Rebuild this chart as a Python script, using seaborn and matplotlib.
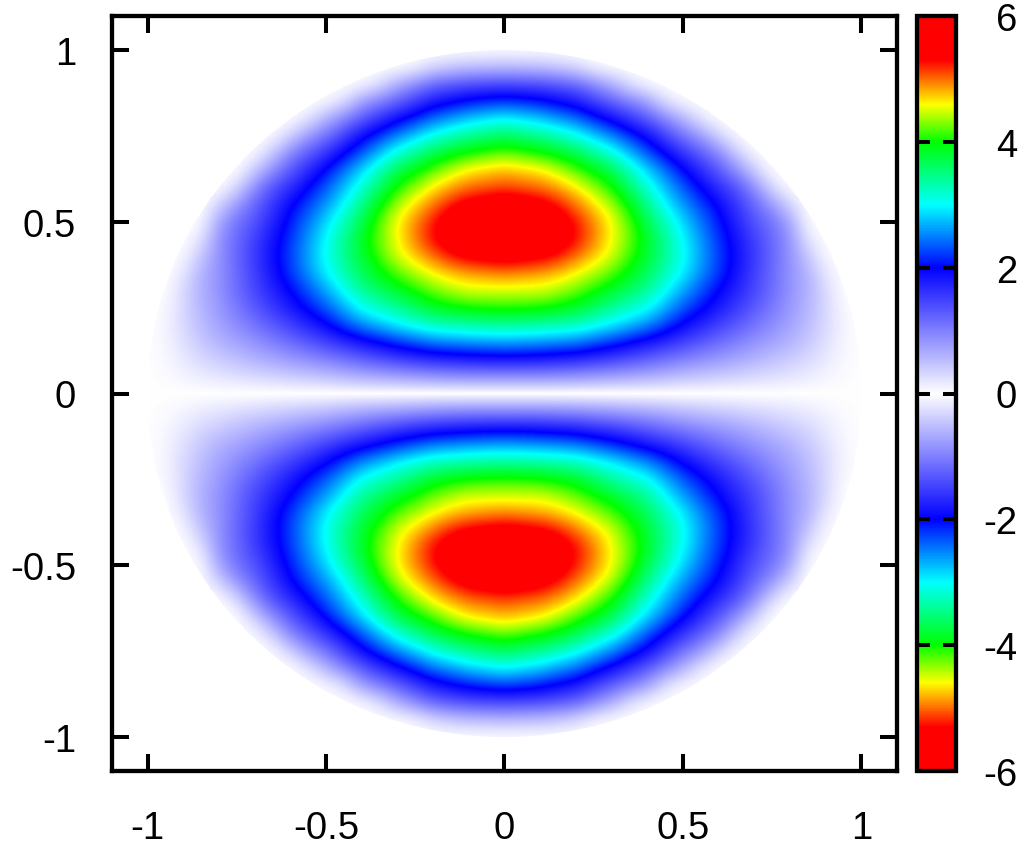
import numpy as np
import matplotlib
matplotlib.use('Agg')
import matplotlib.pyplot as plt
from matplotlib.colors import LinearSegmentedColormap
from matplotlib.patches import Ellipse
import seaborn as sns

# values, upper right quarter, y = 0, 0.05, ... 1.1
# one list per x = 0, 0.05, ... 1.1
col_000 = [0, .9, 1.85, 2.65, 3.4, 4.1, 4.5, 4.95, 5.5, 5.95, 6.0, 5.65, 5.1, 4.8, 4.25, 3.65, 3.0, 2.25, 1.45, .55, 0, 0, 0]
col_005 = [0, .9, 1.83, 2.63, 3.38, 4.08, 4.5, 4.9, 5.45, 5.85, 5.9, 5.55, 5.05, 4.72, 4.15, 3.55, 2.9, 2.18, 1.43, .52, 0, 0, 0]
col_010 = [0, .9, 1.8, 2.6, 3.35, 4.05, 4.5, 4.85, 5.4, 5.7, 5.75, 5.45, 5.0, 4.65, 4.05, 3.45, 2.8, 2.1, 1.4, .5, 0, 0, 0]
col_015 = [0, .88, 1.75, 2.55, 3.3, 3.95, 4.4, 4.75, 5.25, 5.55, 5.55, 5.25, 4.85, 4.45, 3.9, 3.28, 2.62, 1.95, 1.3, .42, 0, 0, 0]
col_020 = [0, .85, 1.7, 2.5, 3.25, 3.85, 4.25, 4.6, 5.0, 5.3, 5.25, 4.98, 4.65, 4.2, 3.7, 3.1, 2.45, 1.8, 1.2, .3, 0, 0, 0]
col_025 = [0, .8, 1.6, 2.35, 3.1, 3.62, 4.05, 4.4, 4.75, 4.95, 4.92, 4.7, 4.35, 3.95, 3.42, 2.82, 2.17, 1.52, .92, .08, 0, 0, 0]
col_030 = [0, .75, 1.5, 2.2, 2.95, 3.4, 3.85, 4.2, 4.5, 4.6, 4.6, 4.4, 4.05, 3.7, 3.15, 2.55, 1.9, 1.25, .65, 0, 0, 0, 0]
col_035 = [0, .7, 1.38, 2.02, 2.75, 3.22, 3.62, 3.92, 4.15, 4.25, 4.2, 3.95, 3.6, 3.27, 2.75, 2.22, 1.6, 1.0, .25, 0, 0, 0, 0]
col_040 = [0, .65, 1.25, 1.85, 2.55, 3.05, 3.4, 3.65, 3.8, 3.85, 3.7, 3.45, 3.15, 2.85, 2.35, 1.9, 1.3, .75, .05, 0, 0, 0, 0]
col_045 = [0, .58, 1.12, 1.68, 2.25, 2.7, 3.02, 3.3, 3.42, 3.42, 3.27, 3.0, 2.75, 2.45, 1.97, 1.5, .95, .25, 0, 0, 0, 0, 0]
col_050 = [0, .5, 1.0, 1.5, 1.95, 2.35, 2.65, 2.95, 3.05, 3.0, 2.85, 2.6, 2.35, 2.05, 1.6, 1.1, .6, .05, 0, 0, 0, 0, 0]
col_055 = [0, .45, .9, 1.32, 1.72, 2.07, 2.32, 2.57, 2.65, 2.6, 2.47, 2.27, 2.0, 1.67, 1.27, .8, .2, 0, 0, 0, 0, 0, 0]
col_060 = [0, .4, .8, 1.15, 1.5, 1.8, 2.0, 2.2, 2.25, 2.2, 2.1, 1.95, 1.65, 1.3, .95, .35, 0, 0, 0, 0, 0, 0, 0]
col_065 = [0, .35, .7, 1.0, 1.3, 1.55, 1.72, 1.85, 1.9, 1.85, 1.72, 1.57, 1.35, .9, .4, .05, 0, 0, 0, 0, 0, 0, 0]
col_070 = [0, .3, .6, .85, 1.1, 1.3, 1.45, 1.5, 1.55, 1.5, 1.35, 1.2, .9, .4, .05, 0, 0, 0, 0, 0, 0, 0, 0]
col_075 = [0, .25, .5, .72, .9, 1.05, 1.15, 1.17, 1.2, 1.17, 1.1, .8, .3, 0, 0, 0, 0, 0, 0, 0, 0, 0, 0]
col_080 = [0, .2, .4, .6, .72, .8, .85, .85, .85, .85, .7, .35, 0, 0, 0, 0, 0, 0, 0, 0, 0, 0, 0]
col_085 = [0, .15, .3, .43, .52, .58, .62, .6, .45, .2, .03, 0, 0, 0, 0, 0, 0, 0, 0, 0, 0, 0, 0]
col_090 = [0, .08, .17, .24, .3, .3, .3, .18, .05, 0, 0, 0, 0, 0, 0, 0, 0, 0, 0, 0, 0, 0, 0]
col_095 = [0, .03, .05, .07, .08, .05, 0, 0, 0, 0, 0, 0, 0, 0, 0, 0, 0, 0, 0, 0, 0, 0, 0]
col_100 = [0] * 23
col_105 = [0] * 23
col_110 = [0] * 23

x_ticks = [-1, -0.5, 0, 0.5, 1]
y_ticks = [-1, -0.5, 0, 0.5, 1]
x_labels = ['-1', '-0.5', '0', '0.5', '1']
y_labels = ['-1', '-0.5', '0', '0.5', '1']
cb_ticks = [-6, -4, -2, 0, 2, 4, 6]
cb_labels = ['-6', '-4', '-2', '0', '2', '4', '6']

# colour stops of the bar, mirrored around zero
stop_vals = [0, 2, 3, 4, 4.6, 5.3, 6]
stop_cols = ['white', '#0000ff', '#00ffff', '#00ff00', '#ffff00', '#ff0000', '#ff0000']

stops = [(0.5 - v / 12, c) for v, c in zip(stop_vals[::-1], stop_cols[::-1])]
stops += [(0.5 + v / 12, c) for v, c in zip(stop_vals[1:], stop_cols[1:])]
cmap = LinearSegmentedColormap.from_list('pm3d', stops, N=1024)

quarter = np.array([col_000, col_005, col_010, col_015, col_020, col_025, col_030, col_035,
                    col_040, col_045, col_050, col_055, col_060, col_065, col_070, col_075,
                    col_080, col_085, col_090, col_095, col_100, col_105, col_110], dtype=float).T
# rows go top to bottom, picture is mirrored left/right and up/down
right = np.vstack([quarter[:0:-1], -quarter])
z = np.hstack([right[:, :0:-1], right])

W, H = 1024, 853
sns.set_theme(style='white')
plt.rcParams['font.family'] = ['Liberation Sans', 'DejaVu Sans']

fig = plt.figure(figsize=(W / 100, H / 100), dpi=100)
ax = fig.add_axes([112 / W, 1 - 772 / H, (897 - 112) / W, (772 - 17) / H])
cax = fig.add_axes([917 / W, 1 - 772 / H, (956 - 917) / W, (772 - 17) / H])

sns.heatmap(z, ax=ax, cbar_ax=cax, cmap=cmap, vmin=-6, vmax=6,
            xticklabels=False, yticklabels=False)

# smooth the same cells, gnuplot pm3d look
nrows, ncols = z.shape
im = ax.imshow(z, cmap=cmap, vmin=-6, vmax=6, aspect='auto', interpolation='bicubic',
               interpolation_stage='data', extent=(0, ncols, nrows, 0), zorder=1.2)


def col_pos(v):
    return (v + 1.1) / 0.05 + 0.5


def row_pos(v):
    return (1.1 - v) / 0.05 + 0.5


ax.set_xlim(col_pos(-1.1), col_pos(1.1))
ax.set_ylim(row_pos(-1.1), row_pos(1.1))

# field only exists inside the unit circle
disc = Ellipse((col_pos(0), row_pos(0)), 2 / 0.05, 2 / 0.05, transform=ax.transData)
im.set_clip_path(disc)
ax.collections[0].set_clip_path(disc)

ax.set_xticks([col_pos(v) for v in x_ticks])
ax.set_xticklabels(x_labels)
ax.set_yticks([row_pos(v) for v in y_ticks])
ax.set_yticklabels(y_labels)
ax.set_axisbelow(False)
ax.tick_params(axis='both', direction='in', length=12, width=2.9, labelsize=27.5,
               top=True, bottom=True, left=True, right=True, pad=26, colors='black')
ax.tick_params(axis='x', pad=28)
for s in ax.spines.values():
    s.set_visible(True)
    s.set_linewidth(3.1)
    s.set_color('black')

cbar = ax.collections[0].colorbar
cbar.set_ticks(cb_ticks)
cbar.set_ticklabels(cb_labels)
cbar.ax.set_axisbelow(False)
cbar.ax.tick_params(direction='in', length=9.5, width=2.9, labelsize=27.5,
                    left=True, right=True, pad=44, colors='black')
for t in cbar.ax.get_yticklabels():
    t.set_ha('right')
cbar.outline.set_visible(True)
cbar.outline.set_linewidth(3.1)
cbar.outline.set_edgecolor('black')

fig.savefig('out.png', dpi=100)
